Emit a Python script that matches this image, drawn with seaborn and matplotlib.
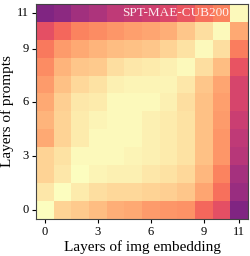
import matplotlib
matplotlib.use("Agg")
import matplotlib.pyplot as plt
import numpy as np
import seaborn as sns

# Similarity between prompt layers (rows, 0 at bottom) and img embedding layers (cols)
row_0 = [1.00, 0.91, 0.89, 0.86, 0.83, 0.82, 0.79, 0.78, 0.77, 0.68, 0.62, 0.37]
row_1 = [0.95, 1.00, 0.96, 0.93, 0.92, 0.92, 0.91, 0.90, 0.88, 0.81, 0.70, 0.43]
row_2 = [0.91, 0.95, 1.00, 0.98, 0.97, 0.97, 0.95, 0.94, 0.92, 0.85, 0.74, 0.46]
row_3 = [0.91, 0.94, 0.99, 0.99, 0.99, 0.98, 0.97, 0.96, 0.94, 0.87, 0.78, 0.50]
row_4 = [0.82, 0.91, 0.96, 0.99, 0.99, 0.99, 0.97, 0.96, 0.94, 0.87, 0.78, 0.52]
row_5 = [0.84, 0.91, 0.96, 0.98, 0.99, 0.99, 0.97, 0.96, 0.94, 0.87, 0.79, 0.55]
row_6 = [0.82, 0.90, 0.95, 0.96, 0.99, 0.99, 0.99, 0.97, 0.93, 0.87, 0.80, 0.58]
row_7 = [0.79, 0.87, 0.92, 0.94, 0.97, 0.98, 0.98, 0.98, 0.95, 0.88, 0.81, 0.58]
row_8 = [0.76, 0.84, 0.88, 0.89, 0.93, 0.95, 0.96, 0.97, 0.99, 0.93, 0.86, 0.63]
row_9 = [0.72, 0.79, 0.82, 0.84, 0.86, 0.87, 0.88, 0.91, 0.94, 0.99, 0.93, 0.73]
row_10 = [0.62, 0.68, 0.74, 0.76, 0.78, 0.80, 0.81, 0.83, 0.88, 0.93, 0.99, 0.82]
row_11 = [0.37, 0.40, 0.45, 0.48, 0.52, 0.54, 0.56, 0.59, 0.64, 0.70, 0.74, 0.99]

tick_layers = [0, 3, 6, 9, 11]
title = "SPT-MAE-CUB200"

data = np.array([row_0, row_1, row_2, row_3, row_4, row_5,
                 row_6, row_7, row_8, row_9, row_10, row_11])

plt.rcParams["font.family"] = ["Liberation Serif", "DejaVu Serif"]

fig = plt.figure(figsize=(2.5, 2.56), dpi=100)
ax = fig.add_axes([0.144, 0.145, 0.848, 0.84])
sns.heatmap(data, cmap="magma", vmin=0, vmax=1, cbar=False, ax=ax)
ax.invert_yaxis()

ax.set_xticks([t + 0.5 for t in tick_layers])
ax.set_xticklabels(tick_layers, rotation=0)
ax.set_yticks([t + 0.5 for t in tick_layers])
ax.set_yticklabels(tick_layers, rotation=0)
ax.tick_params(labelsize=9, length=3, width=0.8, pad=2)

for s in ax.spines.values():
    s.set_visible(True)
    s.set_color("#444444")
    s.set_linewidth(0.8)

ax.set_xlabel("Layers of img embedding", fontsize=11, labelpad=2)
ax.set_ylabel("Layers of prompts", fontsize=11, labelpad=2)
ax.text(10.95, 11.5, title, color="white", alpha=0.9, fontsize=9.5,
        ha="right", va="center")

fig.savefig("out.png", dpi=100)
